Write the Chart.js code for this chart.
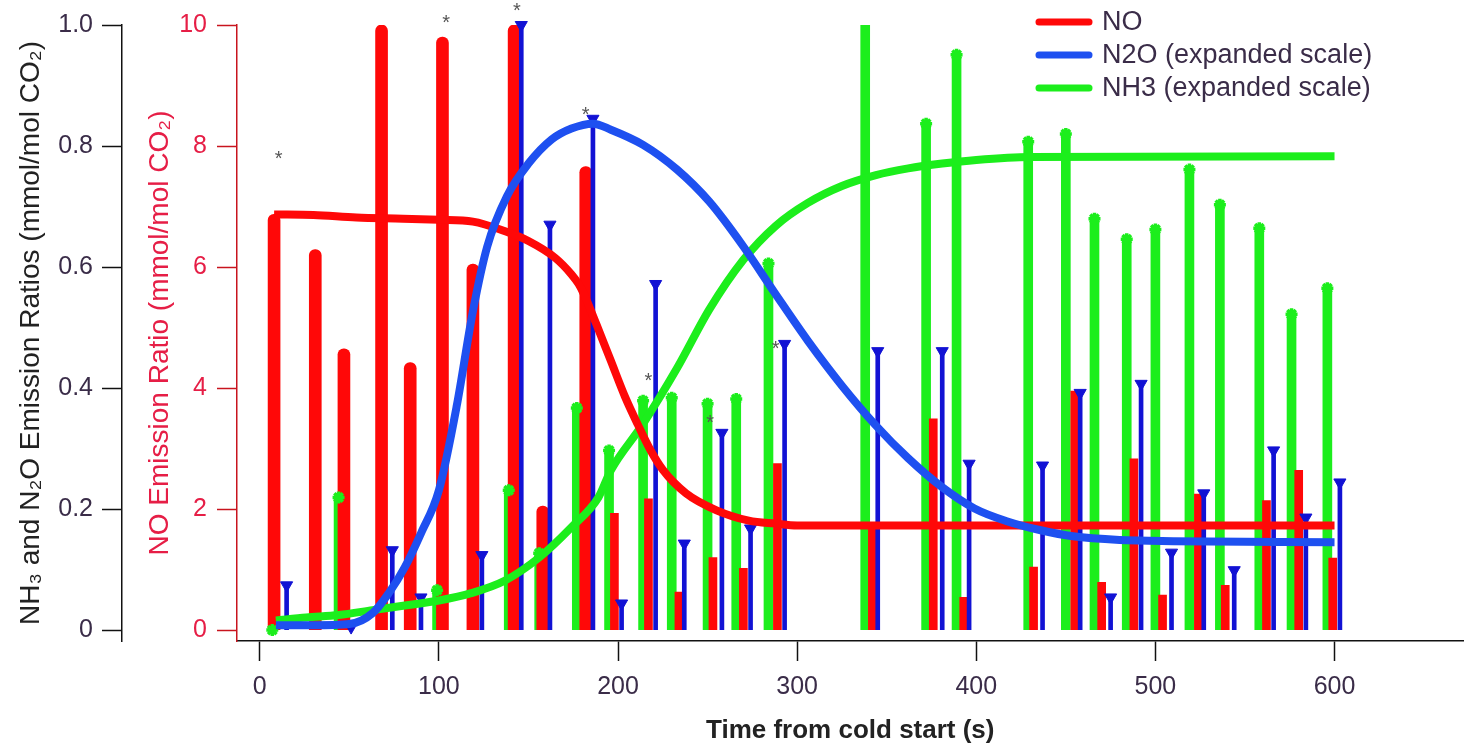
<!DOCTYPE html>
<html>
<head>
<meta charset="utf-8">
<script src="https://cdn.jsdelivr.net/npm/chart.js@4.4.1/dist/chart.umd.min.js"></script>
<style>
  html, body { margin: 0; padding: 0; background: #fff; }
  #wrap { width: 1473px; height: 746px; }
</style>
</head>
<body>
<div id="wrap"><canvas id="emission-chart"></canvas></div>
<script>
// axis ticks
const timeTicks = [0, 100, 200, 300, 400, 500, 600];
const leftTicks = [0, 0.2, 0.4, 0.6, 0.8, 1.0];
const noTicks = [0, 2, 4, 6, 8, 10];

// fitted curves (time in s)
const noCurveTime = [8, 30, 54, 80, 100, 119, 137, 150, 165, 174, 178, 181, 188, 196, 204, 211, 218, 225, 238, 255, 273, 288, 300, 350, 450, 600];
const noCurveVal = [6.87, 6.86, 6.82, 6.8, 6.78, 6.75, 6.59, 6.43, 6.15, 5.88, 5.72, 5.55, 5.05, 4.45, 3.85, 3.4, 2.98, 2.65, 2.26, 1.98, 1.81, 1.76, 1.73, 1.73, 1.73, 1.73];

const n2oCurveTime = [9, 30, 50, 63, 72, 81, 90, 100, 110, 119, 127, 138, 150, 163, 174, 186, 196, 214, 233, 251, 270, 288, 306, 325, 344, 362, 381, 399, 417, 436, 454, 480, 510, 600];
const n2oCurveVal = [0.008, 0.008, 0.01, 0.028, 0.061, 0.104, 0.16, 0.231, 0.371, 0.527, 0.634, 0.717, 0.771, 0.811, 0.829, 0.837, 0.827, 0.802, 0.761, 0.708, 0.634, 0.555, 0.478, 0.404, 0.338, 0.284, 0.236, 0.201, 0.18, 0.165, 0.155, 0.149, 0.147, 0.145];

const nh3CurveTime = [9, 26, 44, 63, 82, 100, 118, 137, 156, 174, 189, 196, 214, 233, 251, 270, 288, 306, 325, 344, 362, 381, 400, 430, 600];
const nh3CurveVal = [0.016, 0.021, 0.025, 0.033, 0.041, 0.049, 0.061, 0.082, 0.12, 0.17, 0.219, 0.264, 0.341, 0.433, 0.53, 0.612, 0.668, 0.706, 0.734, 0.752, 0.763, 0.771, 0.777, 0.782, 0.783];

// measured points (stems)
const noEarlyTime = [8, 31, 47, 68, 84, 102, 119, 142, 158, 182];
const noEarlyVal = [6.87, 6.29, 4.65, 10.0, 4.42, 9.8, 6.05, 10.0, 2.05, 7.66];
const noLateTime = [198, 217, 234, 253, 270, 289, 342, 376, 393, 432, 455, 470, 488, 504, 524, 539, 562, 580, 599];
const noLateVal = [1.93, 2.17, 0.63, 1.2, 1.02, 2.75, 1.7, 3.49, 0.54, 1.04, 3.95, 0.79, 2.83, 0.58, 2.25, 0.74, 2.14, 2.64, 1.19];

const n2oTime = [15, 51, 74, 90, 124, 146, 162, 186, 202, 221, 237, 258, 274, 293, 345, 381, 396, 437, 458, 475, 492, 509, 527, 544, 566, 584, 603];
const n2oVal = [0.074, 0.005, 0.132, 0.054, 0.124, 1.0, 0.67, 0.845, 0.044, 0.572, 0.143, 0.326, 0.168, 0.473, 0.461, 0.461, 0.275, 0.272, 0.392, 0.054, 0.407, 0.128, 0.226, 0.099, 0.297, 0.186, 0.244];

const nh3Time = [7, 44, 99, 139, 156, 177, 195, 214, 230, 250, 266, 284, 338, 372, 389, 429, 450, 466, 484, 500, 519, 536, 558, 576, 596];
const nh3Val = [0, 0.219, 0.066, 0.231, 0.127, 0.367, 0.297, 0.379, 0.384, 0.374, 0.382, 0.606, 1.0, 0.837, 0.951, 0.807, 0.82, 0.68, 0.646, 0.662, 0.761, 0.703, 0.664, 0.522, 0.565];

// asterisks
const flagTime = [10.5, 104, 143.5, 182, 217, 251.5, 288];
const flagVal = [0.787, 1.012, 1.031, 0.86, 0.42, 0.351, 0.473];

const legendLabels = ['NO', 'N2O (expanded scale)', 'NH3 (expanded scale)'];

const RED = 'rgb(255, 8, 8)';
const BLUE_LINE = 'rgb(30, 80, 240)';
const BLUE_STEM = 'rgb(18, 18, 212)';
const GREEN = 'rgb(28, 238, 28)';
const LABEL = 'rgb(58, 44, 72)';
const legendColors = [RED, BLUE_LINE, GREEN];

const FONT = "'Liberation Sans', Arial, sans-serif";

function pts(ts, vs) {
  return ts.map((t, i) => ({ x: t, y: vs[i] }));
}

const cornerLegend = {
  id: 'cornerLegend',
  afterDraw(chart) {
    const c = chart.ctx;
    c.save();
    c.font = '27px ' + FONT;
    c.textBaseline = 'middle';
    legendLabels.forEach((txt, i) => {
      const y = 22 + i * 33;
      c.strokeStyle = legendColors[i];
      c.lineWidth = 7;
      c.lineCap = 'round';
      c.beginPath();
      c.moveTo(1039, y);
      c.lineTo(1089, y);
      c.stroke();
      c.fillStyle = LABEL;
      c.fillText(txt, 1102, y + 1);
    });
    c.restore();
  }
};

// grey asterisks, placed through the chart's own scales
const asterisks = {
  id: 'asterisks',
  afterDatasetsDraw(chart) {
    const c = chart.ctx;
    const xs = chart.scales.x, ys = chart.scales.yL;
    c.save();
    c.font = '20px ' + FONT;
    c.fillStyle = '#555';
    c.textAlign = 'center';
    c.textBaseline = 'alphabetic';
    flagTime.forEach((t, i) => {
      c.fillText('*', xs.getPixelForValue(t), ys.getPixelForValue(flagVal[i]) + 11);
    });
    c.restore();
  }
};

function emissionChart() {
  const el = document.getElementById('emission-chart');
  new Chart(el, {
    type: 'bar',
    data: {
      datasets: [
        {
          label: 'NH3 stems', data: pts(nh3Time, nh3Val), yAxisID: 'yL',
          backgroundColor: GREEN, barThickness: 9, grouped: false, order: 9
        },
        {
          label: 'NO stems', data: pts(noEarlyTime, noEarlyVal), yAxisID: 'yNO',
          backgroundColor: RED, barThickness: 12, grouped: false, borderRadius: 6, order: 8
        },
        {
          label: 'NO stems late', data: pts(noLateTime, noLateVal), yAxisID: 'yNO',
          backgroundColor: RED, barThickness: 8, grouped: false, order: 8
        },
        {
          label: 'N2O stems', data: pts(n2oTime, n2oVal), yAxisID: 'yL',
          backgroundColor: BLUE_STEM, barThickness: 4, grouped: false, order: 7
        },
        {
          type: 'scatter', label: 'NH3 marks',
          data: pts(nh3Time, nh3Val).filter(p => p.y < 1), yAxisID: 'yL',
          pointStyle: 'star', pointRadius: 6, borderWidth: 3.5,
          borderColor: GREEN, backgroundColor: GREEN, clip: false, order: 6
        },
        {
          type: 'scatter', label: 'N2O marks', data: pts(n2oTime, n2oVal), yAxisID: 'yL',
          pointStyle: 'triangle', rotation: 180, pointRadius: 7, borderWidth: 1,
          borderColor: BLUE_STEM, backgroundColor: BLUE_STEM, clip: false, order: 5
        },
        {
          type: 'line', label: 'NH3', data: pts(nh3CurveTime, nh3CurveVal), yAxisID: 'yL',
          borderColor: GREEN, borderWidth: 8, pointRadius: 0, cubicInterpolationMode: 'monotone', order: 4
        },
        {
          type: 'line', label: 'NO', data: pts(noCurveTime, noCurveVal), yAxisID: 'yNO',
          borderColor: RED, borderWidth: 8, pointRadius: 0, cubicInterpolationMode: 'monotone', order: 3
        },
        {
          type: 'line', label: 'N2O', data: pts(n2oCurveTime, n2oCurveVal), yAxisID: 'yL',
          borderColor: BLUE_LINE, borderWidth: 8, pointRadius: 0, cubicInterpolationMode: 'monotone', order: 2
        }
      ]
    },
    options: {
      responsive: true,
      maintainAspectRatio: false,
      animation: false,
      layout: { padding: { top: 23, right: 0, bottom: 0, left: 0 } },
      plugins: { legend: { display: false }, tooltip: { enabled: false } },
      scales: {
        x: {
          type: 'linear', position: 'bottom', min: -12.7, max: 672, offset: false,
          afterBuildTicks: s => { s.ticks = timeTicks.map(v => ({ value: v })); },
          afterFit: s => { s.height = 105; },
          grid: { offset: false, drawOnChartArea: false, tickLength: 20, color: '#111', tickWidth: 1.5 },
          border: { color: '#111', width: 1.5 },
          ticks: { color: LABEL, font: { family: FONT, size: 25 }, padding: 11 },
          title: {
            display: true, text: 'Time from cold start (s)', color: '#222',
            font: { family: FONT, size: 26, weight: 'bold' }, padding: 0
          }
        },
        yL: {
          type: 'linear', position: 'left', weight: 2, min: -0.018, max: 1.0,
          afterBuildTicks: s => { s.ticks = leftTicks.map(v => ({ value: v })); },
          afterFit: s => { s.width = 122; },
          grid: { drawOnChartArea: false, tickLength: 20, color: '#111', tickWidth: 1.5 },
          border: { color: '#111', width: 1.5 },
          ticks: {
            color: LABEL, font: { family: FONT, size: 25 }, padding: 9,
            callback: v => (v === 0 ? '0' : v.toFixed(1))
          },
          title: {
            display: true, text: 'NH\u2083 and N\u2082O Emission Ratios (mmol/mol CO\u2082)', color: '#222',
            font: { family: FONT, size: 28 }, padding: { top: 14, bottom: 0 }
          }
        },
        yNO: {
          type: 'linear', position: 'left', weight: 1, min: -0.18, max: 10,
          afterBuildTicks: s => { s.ticks = noTicks.map(v => ({ value: v })); },
          afterFit: s => { s.width = 115; },
          grid: { drawOnChartArea: false, tickLength: 20, color: 'rgb(200, 20, 30)', tickWidth: 1.5 },
          border: { color: 'rgb(200, 20, 30)', width: 1.5 },
          ticks: { color: 'rgb(230, 30, 70)', font: { family: FONT, size: 25 }, padding: 10 },
          title: {
            display: true, text: 'NO Emission Ratio (mmol/mol CO\u2082)', color: 'rgb(230, 30, 70)',
            font: { family: FONT, size: 28 }, padding: { top: 21, bottom: 0 }
          }
        }
      }
    },
    plugins: [cornerLegend, asterisks]
  });
}

emissionChart();
</script>
</body>
</html>
